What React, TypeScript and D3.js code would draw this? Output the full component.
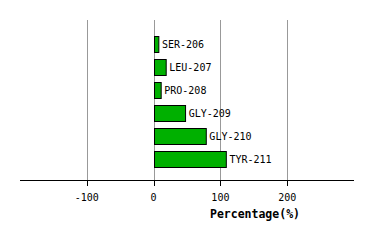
import React from "react";
import * as d3 from "d3";

const categories = ["SER-206", "LEU-207", "PRO-208", "GLY-209", "GLY-210", "TYR-211"];
const values = [6.5, 17.5, 10, 46.5, 77.5, 107.5];
const tickValues = [-100, 0, 100, 200];
const axisTitle = "Percentage(%)";

export default function App() {
  const W = 374, H = 240;
  const x = d3.scaleLinear().domain([-200, 300]).range([20, 354]);
  const y = d3.scaleBand<string>().domain(categories).range([32, 170]).paddingInner(0.32).paddingOuter(0.16);
  const font = "'DejaVu Sans Mono', monospace";
  const axisY = 180;
  return (
    <svg width={W} height={H} style={{ position: "absolute", left: 0, top: 0, background: "#fff" }}>
      {tickValues.map((t) => (
        <line key={"g" + t} x1={Math.round(x(t)) + 0.5} x2={Math.round(x(t)) + 0.5} y1={20} y2={axisY} stroke="#999" strokeWidth={1} />
      ))}
      {categories.map((c, i) => {
        const x0 = x(0), x1 = x(values[i]);
        const yy = y(c)!;
        return (
          <g key={c}>
            <rect x={Math.round(x0) + 0.5} y={Math.round(yy) + 0.5} width={x1 - x0} height={Math.round(y.bandwidth())} fill="#00b000" stroke="#000" strokeWidth={1} />
            <text x={x1 + 4} y={yy + y.bandwidth() / 2 + 1} dominantBaseline="middle" fontFamily={font} fontSize={10} fill="#000">{c}</text>
          </g>
        );
      })}
      <line x1={20} x2={354} y1={axisY + 0.5} y2={axisY + 0.5} stroke="#000" strokeWidth={1} />
      {tickValues.map((t) => (
        <g key={"t" + t}>
          <line x1={Math.round(x(t)) + 0.5} x2={Math.round(x(t)) + 0.5} y1={axisY} y2={axisY + 6} stroke="#000" strokeWidth={1} />
          <text x={x(t)} y={201} textAnchor="middle" fontFamily={font} fontSize={10} fill="#000">{t}</text>
        </g>
      ))}
      <text x={255} y={218} textAnchor="middle" fontFamily={font} fontSize={11.5} fontWeight="bold" fill="#000">{axisTitle}</text>
    </svg>
  );
}
